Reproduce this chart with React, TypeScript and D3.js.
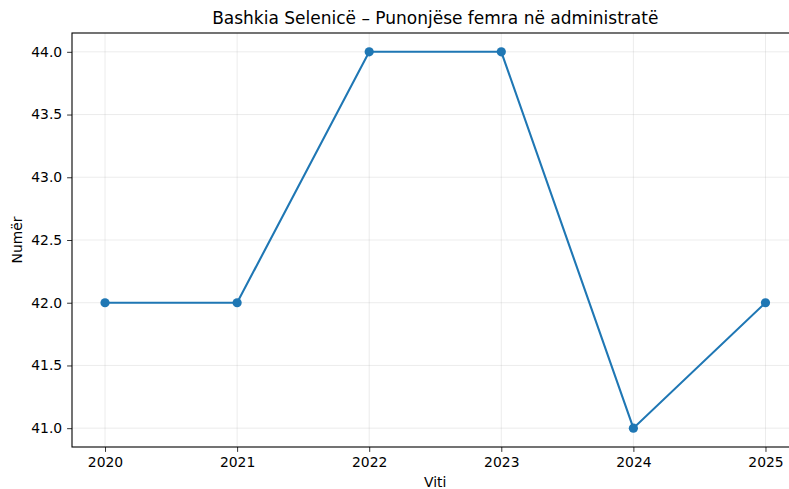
import { useEffect, useRef } from "react"
import * as d3 from "d3"

const years = [2020, 2021, 2022, 2023, 2024, 2025]
const counts = [42, 42, 44, 44, 41, 42]
const yTicks = [41.0, 41.5, 42.0, 42.5, 43.0, 43.5, 44.0]

const W = 789
const H = 489
const left = 72
const right = 798.5
const top = 33
const bottom = 447
const font = "DejaVu Sans, sans-serif"

const App = () => {
    const ref = useRef<SVGSVGElement>(null)

    useEffect(() => {
        const svg = d3.select(ref.current)
        svg.selectAll("*").remove()

        const x = d3.scaleLinear().domain([2019.75, 2025.25]).range([left, right])
        const y = d3.scaleLinear().domain([40.85, 44.15]).range([bottom, top])

        // grid
        const grid = svg.append("g").attr("stroke", "#b0b0b0").attr("stroke-opacity", 0.3).attr("stroke-width", 0.8)
        years.forEach(v => {
            grid.append("line").attr("x1", x(v)).attr("x2", x(v)).attr("y1", top).attr("y2", bottom)
        })
        yTicks.forEach(v => {
            grid.append("line").attr("x1", left).attr("x2", right).attr("y1", y(v)).attr("y2", y(v))
        })

        // axes
        const xAxis = svg.append("g")
            .attr("transform", `translate(0,${bottom})`)
            .call(d3.axisBottom(x).tickValues(years).tickFormat(d3.format("d")).tickSizeOuter(0).tickSize(4.9).tickPadding(4.9))
        const yAxis = svg.append("g")
            .attr("transform", `translate(${left},0)`)
            .call(d3.axisLeft(y).tickValues(yTicks).tickFormat(d3.format(".1f")).tickSizeOuter(0).tickSize(4.9).tickPadding(4.9))

        for (const a of [xAxis, yAxis]) {
            a.select(".domain").remove()
            a.selectAll("line").attr("stroke", "#000").attr("stroke-width", 0.8)
            a.selectAll("text").attr("fill", "#000").attr("font-size", 13.9).attr("font-family", font)
        }

        // spines
        svg.append("rect")
            .attr("x", left).attr("y", top)
            .attr("width", right - left).attr("height", bottom - top)
            .attr("fill", "none").attr("stroke", "#000").attr("stroke-width", 1.1)

        const line = d3.line<number>()
            .x((d, i) => x(years[i]))
            .y(d => y(d))

        svg.append("path")
            .datum(counts)
            .attr("d", line)
            .attr("fill", "none")
            .attr("stroke", "#1f77b4")
            .attr("stroke-width", 2.1)

        svg.selectAll("circle.pt")
            .data(counts)
            .enter()
            .append("circle")
            .attr("class", "pt")
            .attr("cx", (d, i) => x(years[i]))
            .attr("cy", d => y(d))
            .attr("r", 4.6)
            .attr("fill", "#1f77b4")

        svg.append("text")
            .attr("x", (left + right) / 2).attr("y", 24)
            .attr("text-anchor", "middle")
            .attr("font-size", 17).attr("font-family", font)
            .text("Bashkia Selenicë – Punonjëse femra në administratë")

        svg.append("text")
            .attr("x", (left + right) / 2).attr("y", 486.5)
            .attr("text-anchor", "middle")
            .attr("font-size", 13.9).attr("font-family", font)
            .text("Viti")

        svg.append("text")
            .attr("transform", `translate(22,${(top + bottom) / 2}) rotate(-90)`)
            .attr("text-anchor", "middle")
            .attr("font-size", 13.9).attr("font-family", font)
            .text("Numër")
    })

    return (
        <div style={{ position: "fixed", left: 0, top: 0, width: W, height: H, background: "#fff" }}>
            <svg ref={ref} width={W} height={H} style={{ display: "block", overflow: "hidden" }} />
        </div>
    )
}

export default App
